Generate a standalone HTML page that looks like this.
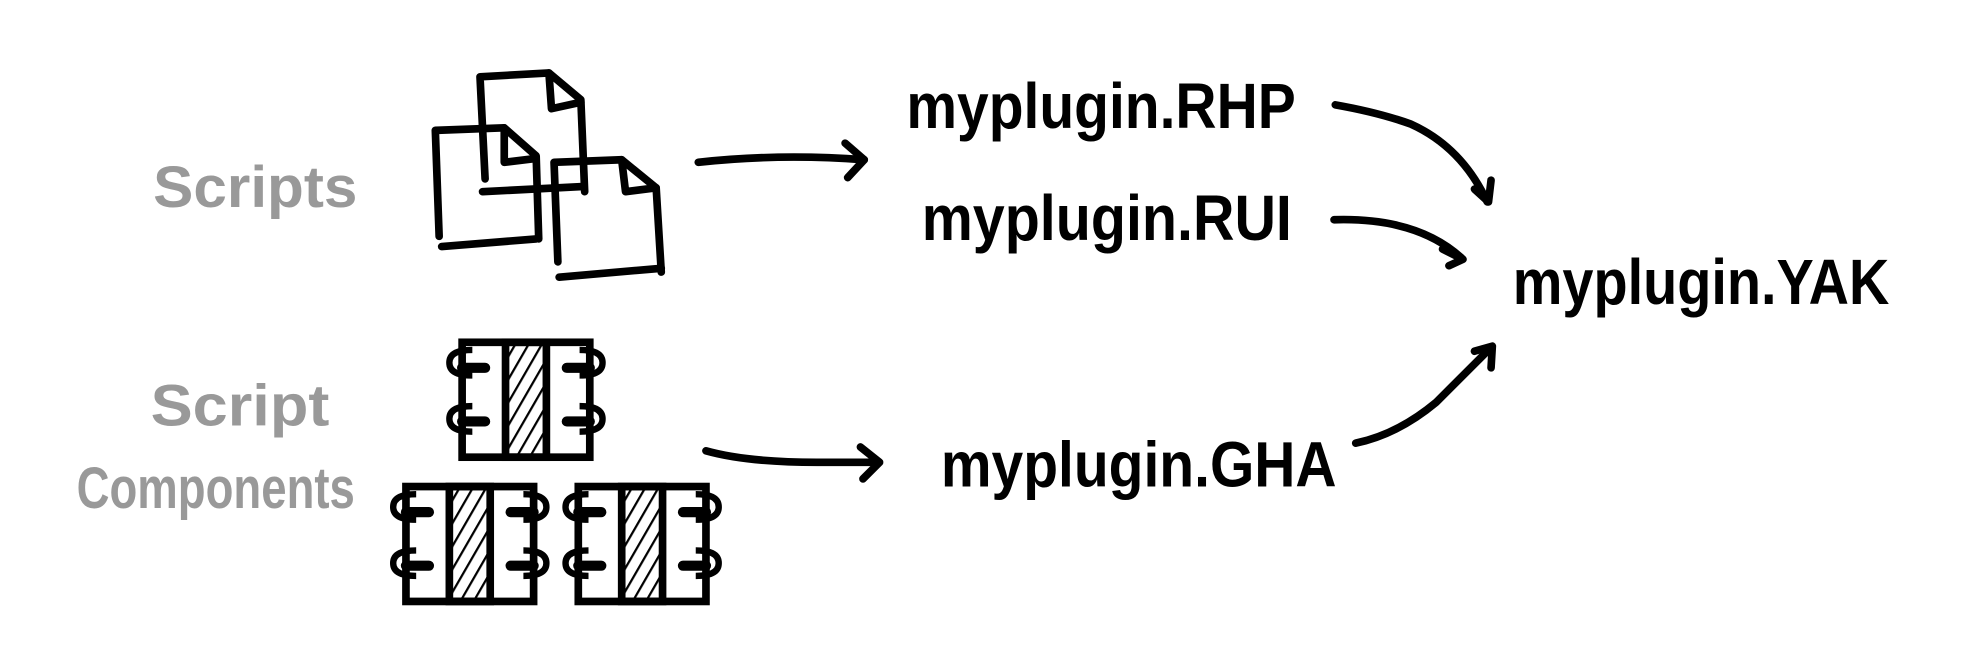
<!DOCTYPE html>
<html><head><meta charset="utf-8"><style>html,body{margin:0;padding:0;background:#fff}svg{display:block}</style></head>
<body>
<svg width="1980" height="668" viewBox="0 0 1551 523" xmlns="http://www.w3.org/2000/svg">
<defs>
<pattern id="h" patternUnits="userSpaceOnUse" width="9" height="9" patternTransform="rotate(30)">
<line x1="0" y1="0" x2="0" y2="9" stroke="#000" stroke-width="3.5"/>
</pattern>
<g id="comp">
<rect x="0" y="0" width="100" height="90" fill="#fff" stroke="#000" stroke-width="6"/>
<rect x="34" y="0" width="32" height="90" fill="url(#h)" stroke="#000" stroke-width="6"/>
<path d="M8 26 q-18 0 -18 -10 q0 -10 18 -10" fill="none" stroke="#000" stroke-width="5"/>
<path d="M8 70 q-18 0 -18 -10 q0 -10 18 -10" fill="none" stroke="#000" stroke-width="5"/>
<path d="M92 26 q18 0 18 -10 q0 -10 -18 -10" fill="none" stroke="#000" stroke-width="5"/>
<path d="M92 70 q18 0 18 -10 q0 -10 -18 -10" fill="none" stroke="#000" stroke-width="5"/>
<line x1="0" y1="20" x2="18" y2="20" stroke="#000" stroke-width="8" stroke-linecap="round"/>
<line x1="0" y1="62" x2="18" y2="62" stroke="#000" stroke-width="8" stroke-linecap="round"/>
<line x1="82" y1="20" x2="100" y2="20" stroke="#000" stroke-width="8" stroke-linecap="round"/>
<line x1="82" y1="62" x2="100" y2="62" stroke="#000" stroke-width="8" stroke-linecap="round"/>
</g>
</defs>
<g font-family="Liberation Sans, sans-serif" font-weight="bold">
<text x="120" y="162" font-size="46" fill="#999" textLength="160" lengthAdjust="spacingAndGlyphs">Scripts</text>
<text x="118" y="333" font-size="46" fill="#999" textLength="140" lengthAdjust="spacingAndGlyphs">Script</text>
<text x="60" y="398" font-size="46" fill="#999" textLength="218" lengthAdjust="spacingAndGlyphs">Components</text>
<text x="710" y="100" font-size="50" textLength="305" lengthAdjust="spacingAndGlyphs">myplugin.RHP</text>
<text x="722" y="188" font-size="50" textLength="290" lengthAdjust="spacingAndGlyphs">myplugin.RUI</text>
<text x="737" y="381" font-size="50" textLength="310" lengthAdjust="spacingAndGlyphs">myplugin.GHA</text>
<text x="1185" y="238" font-size="50" textLength="295" lengthAdjust="spacingAndGlyphs">myplugin.YAK</text>
</g>
<g fill="none" stroke="#000" stroke-width="6" stroke-linecap="round" stroke-linejoin="round">
<path d="M380 140 L376 60 L430 57 L455 78 L458 150"/>
<path d="M430 57 L432 85 L455 80"/>
<path d="M344 185 L341 102 L395 100 L420 122 L422 187"/>
<path d="M395 100 L395 127 L420 124"/>
<path d="M346 193 L420 187"/>
<path d="M378 150 L456 146"/>
<path d="M437 205 L434 127 L487 125 L514 147 L518 213"/>
<path d="M487 125 L490 150 L514 147"/>
<path d="M438 217 L518 210"/>
<path d="M547 127 Q610 120 677 125"/>
<path d="M662 112 L677 125 L664 139"/>
<path d="M553 353 Q585 362 640 362 L688 362"/>
<path d="M674 350 L689 362 L676 375"/>
<path d="M1046 82 Q1080 88 1105 97 Q1145 115 1165 158"/>
<path d="M1155 148 L1166 158 L1168 141"/>
<path d="M1045 172 Q1110 170 1145 202"/>
<path d="M1130 195 L1146 203 L1135 208"/>
<path d="M1062 347 Q1095 340 1125 315 L1168 272"/>
<path d="M1155 275 L1169 271 L1168 288"/>
</g>
<use href="#comp" x="362" y="268"/>
<use href="#comp" x="318" y="381"/>
<use href="#comp" x="453" y="381"/>
</svg>
</body></html>
